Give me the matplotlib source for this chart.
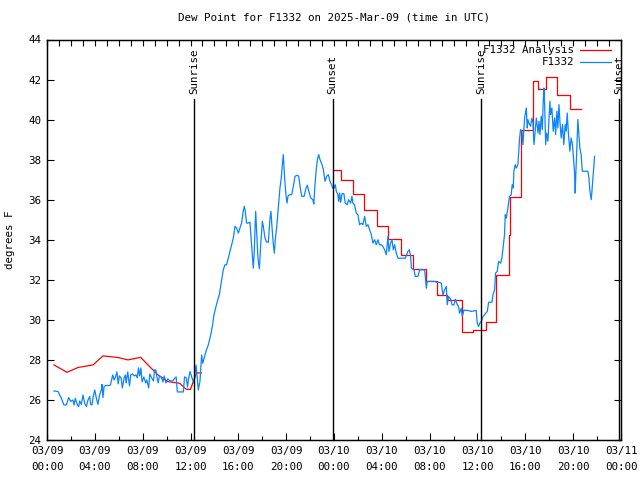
import datetime as dt

import matplotlib
matplotlib.use("Agg")
import matplotlib.pyplot as plt
from matplotlib.ticker import MultipleLocator, FuncFormatter, NullFormatter

# hours since 2025-03-09 00:00 UTC
obs_t = [0.58, 0.92, 1.2, 1.42, 1.62, 1.81, 1.98, 2.17, 2.26, 2.37, 2.54, 2.65, 2.73, 2.87,
         3.01, 3.15, 3.29, 3.43, 3.57, 3.65, 3.76, 3.85, 3.99, 4.13, 4.26, 4.40, 4.54, 4.6,
         4.68, 4.77, 4.9, 5.2, 5.3, 5.4, 5.5, 5.6, 5.7, 5.85, 5.95, 6.05, 6.2, 6.3, 6.45,
         6.55, 6.62, 6.75, 6.9, 7.0, 7.15, 7.3, 7.45, 7.55, 7.65, 7.75, 7.85, 7.95, 8.1,
         8.25, 8.35, 8.5, 8.6, 8.75, 8.9, 9.0, 9.1, 9.2, 9.3, 9.4, 9.55, 9.7, 9.8, 9.95,
         10.1, 10.3, 10.5, 10.7, 10.8, 10.9, 11.2, 11.4, 11.5, 11.65, 11.75, 11.85, 11.96,
         12.18, 12.29, 12.46, 12.57, 12.65, 12.79, 12.93, 13.02, 13.13, 13.29, 13.49, 13.69,
         13.85, 13.96, 14.13, 14.24, 14.41, 14.52, 14.63, 14.74, 14.88, 15.02, 15.16, 15.3,
         15.44, 15.58, 15.72, 15.86, 16.0, 16.13, 16.27, 16.41, 16.5, 16.58, 16.69, 16.83,
         16.97, 17.11, 17.25, 17.33, 17.45, 17.53, 17.64, 17.76, 17.87, 18.01, 18.09, 18.23,
         18.37, 18.51, 18.65, 18.73, 18.82, 18.93, 19.01, 19.09, 19.2, 19.34, 19.48, 19.59,
         19.68, 19.76, 19.87, 19.98, 20.07, 20.15, 20.26, 20.46, 20.6, 20.74, 20.93, 21.05,
         21.16, 21.3, 21.5, 21.66, 21.77, 21.89, 22.06, 22.23, 22.31, 22.41, 22.5, 22.61,
         22.72, 22.83, 23.0, 23.11, 23.25, 23.39, 23.53, 23.66, 23.8, 23.89, 24.0, 24.11,
         24.19, 24.33, 24.39, 24.47, 24.56, 24.67, 24.83, 24.94, 25.11, 25.22, 25.39, 25.5,
         25.58, 25.72, 25.86, 26.0, 26.14, 26.28, 26.42, 26.56, 26.7, 26.84, 26.98, 27.12,
         27.26, 27.4, 27.53, 27.67, 27.81, 27.95, 28.09, 28.23, 28.37, 28.51, 28.59, 28.73,
         28.85, 28.96, 29.07, 29.21, 29.35, 29.63, 29.96, 30.18, 30.3, 30.41, 30.47, 30.69,
         30.8, 31.02, 31.16, 31.44, 31.58, 31.63, 31.72, 31.8, 32.14, 32.41, 32.64, 32.83,
         32.97, 33.11, 33.25, 33.39, 33.47, 33.58, 33.75, 33.87, 34.03, 34.15, 34.31, 34.42,
         34.5, 34.64, 34.73, 34.87, 34.98, 35.2, 35.48, 35.89, 35.98, 36.09, 36.18, 36.32,
         36.46, 36.82, 36.93, 37.21, 37.29, 37.43, 37.51, 37.65, 37.76, 37.93, 38.04, 38.12,
         38.26, 38.32, 38.41, 38.54, 38.68, 38.82, 38.9, 38.99, 39.04, 39.16, 39.24, 39.38,
         39.47, 39.52, 39.6, 39.72, 39.8, 39.94, 40.08, 40.16, 40.22, 40.3, 40.44, 40.55,
         40.64, 40.72, 40.83, 40.92, 41.06, 41.14, 41.22, 41.33, 41.42, 41.5, 41.56, 41.61,
         41.7, 41.78, 41.89, 41.98, 42.06, 42.11, 42.22, 42.33, 42.45, 42.53, 42.64, 42.72,
         42.81, 42.89, 43.0, 43.11, 43.22, 43.33, 43.42, 43.5, 43.61, 43.72, 43.83, 43.94,
         44.03, 44.11, 44.17, 44.22, 44.31, 44.39, 44.48, 44.56, 44.67, 44.76, 44.95, 45.23,
         45.32, 45.4, 45.51, 45.57, 45.65, 45.74, 45.79]
obs_v = [26.45, 26.42, 26.08, 25.75, 25.75, 26.12, 25.92, 26.0, 25.75, 26.08, 25.75, 25.67,
         25.95, 25.78, 26.25, 25.83, 25.67, 26.0, 26.17, 25.78, 25.75, 26.12, 26.5, 26.08,
         25.78, 26.25, 26.5, 26.78, 26.12, 26.67, 26.72, 26.72, 26.75, 27.0, 27.25, 27.0,
         27.1, 27.4, 26.8, 27.2, 27.1, 26.6, 27.1, 27.25, 26.85, 27.4, 26.7, 27.25, 27.3,
         27.2, 27.25, 27.1, 27.6, 27.2, 27.6, 26.9, 27.15, 26.85, 27.0, 26.6, 27.3, 27.1,
         26.95, 27.5, 27.5, 27.1, 26.85, 27.2, 27.15, 26.9, 27.2, 26.85, 27.05, 26.95,
         26.95, 27.1, 27.15, 26.4, 26.4, 26.4, 27.15, 27.1, 26.65, 27.1, 27.42,
         27.0, 26.83, 27.75, 27.08, 26.5, 26.92, 28.25, 27.83, 28.08, 28.42, 28.75, 29.25,
         29.75, 30.25, 30.67, 30.92, 31.25, 31.67, 32.08, 32.5, 32.75, 32.75, 33.08, 33.42,
         33.75, 34.08, 34.67, 34.58, 34.33, 34.58, 34.83, 35.42, 35.67, 35.42, 34.83, 34.83,
         34.88, 33.75, 32.58, 33.42, 35.42, 34.42, 33.08, 32.55, 33.75, 34.92, 34.67, 34.08,
         33.88, 33.88, 35.08, 35.42, 34.58, 33.75, 33.33, 34.0, 34.58, 35.58, 36.58, 37.08,
         37.75, 38.25, 37.08, 36.25, 35.83, 36.17, 36.25, 36.25, 36.67, 37.17, 37.22, 37.17,
         36.67, 36.17, 36.17, 36.58, 36.72, 36.42, 36.08, 36.0, 35.78, 36.75, 37.42, 38.0,
         38.25, 38.0, 37.75, 37.5, 36.92, 37.17, 37.25, 36.92, 36.75, 36.58, 36.58, 36.75,
         36.42, 36.25, 35.92, 36.33, 35.87, 36.3, 36.3, 35.83, 35.75, 36.0, 35.83, 36.17,
         35.83, 35.75, 35.33, 35.25, 34.75, 34.83, 34.75, 35.17, 34.67, 34.75, 34.5, 34.25,
         33.83, 34.0, 33.75, 34.0, 33.75, 33.75, 33.67, 33.5, 33.25, 34.17, 33.42, 33.83,
         34.0, 33.5, 33.75, 33.33, 33.08, 33.08, 33.08, 33.42, 33.5, 33.17, 32.58, 32.5,
         32.17, 32.17, 32.5, 32.5, 32.5, 32.17, 31.58, 31.92, 31.92, 31.92, 31.87, 31.87,
         31.83, 31.25, 31.5, 31.67, 30.75, 31.17, 31.03, 30.75, 30.75, 31.03, 30.75, 30.67,
         30.33, 30.58, 30.17, 30.5, 30.47, 30.47, 30.42, 30.47, 29.83, 29.67, 29.83, 29.92,
         30.17, 30.42, 30.88, 30.88, 31.25, 31.5, 32.33, 32.42, 32.92, 32.83, 33.08, 33.5,
         34.25, 35.25, 35.08, 35.58, 36.17, 36.25, 36.75, 36.58, 37.42, 37.75, 37.58, 37.75,
         38.58, 39.08, 39.5, 39.42, 38.75, 40.08, 40.58, 39.58, 40.0, 39.83, 39.67, 40.08,
         39.83, 38.75, 39.5, 40.08, 39.33, 39.92, 39.25, 40.17, 39.5, 41.0, 41.58, 40.83,
         38.75, 39.33, 38.92, 40.08, 40.92, 40.25, 40.58, 39.42, 40.08, 39.25, 40.42, 39.58,
         40.75, 39.92, 39.08, 39.75, 38.75, 39.75, 39.42, 40.33, 39.25, 38.42, 39.08, 38.75,
         38.08, 37.42, 36.33, 37.25, 38.58, 40.0, 39.25, 38.58, 38.25, 37.42, 37.42, 37.42,
         37.08, 36.42, 36.0, 36.42, 37.08, 37.75, 38.17]

# analysis: smooth first night, hourly steps second night
ana1_t = [0.58, 1.67, 2.59, 3.85, 4.68, 5.94, 6.77, 7.83, 8.44, 9.28, 10.1, 11.1, 11.65,
          12.0, 12.35, 12.5, 12.9]
ana1_v = [27.75, 27.38, 27.62, 27.75, 28.2, 28.12, 28.0, 28.13, 27.75, 27.25, 26.92, 26.83,
          26.53, 26.53, 27.1, 27.35, 27.35]
ana2_t = [24.0, 24.55, 25.56, 26.53, 27.56, 28.54, 29.6, 30.58, 31.7, 32.58, 33.42, 34.67,
          35.65, 36.68, 37.54, 38.6, 38.69, 39.6, 39.66, 40.64, 41.05, 41.7, 42.67, 43.7,
          44.62]
ana2_v = [37.5, 37.0, 36.3, 35.5, 34.7, 34.05, 33.22, 32.55, 31.92, 31.22, 31.0, 29.38,
          29.5, 29.87, 32.22, 34.22, 36.13, 38.25, 39.5, 41.95, 41.55, 42.13, 41.22, 40.55,
          40.55]

sun_t = [12.32, 23.88, 36.31, 47.85]
sun_lbl = ["Sunrise", "Sunset", "Sunrise", "Sunset"]

start = dt.datetime(2025, 3, 9)
plt.rcParams["font.family"] = "DejaVu Sans Mono"
plt.rcParams["font.size"] = 7.5

fig = plt.figure(figsize=(6.4, 4.8), dpi=100)
ax = fig.add_axes([47 / 640, 40 / 480, 574 / 640, 400.5 / 480])

ax.plot(ana1_t, ana1_v, color="#ff0000", lw=0.9)
ax.step(ana2_t, ana2_v, where="post", color="#ff0000", lw=0.9)
ax.plot(obs_t, obs_v, color="#0a84ff", lw=0.9)

for t, s in zip(sun_t, sun_lbl):
    ax.plot([t, t], [24, 41.05], color="black", lw=1.0, clip_on=False)
    ax.text(t, 41.3, s, rotation=90, ha="center", va="bottom", fontsize=7.8)

ax.set_xlim(0, 48)
ax.set_ylim(24, 44)
ax.xaxis.set_major_locator(MultipleLocator(4))
ax.xaxis.set_minor_locator(MultipleLocator(2))
ax.xaxis.set_major_formatter(FuncFormatter(
    lambda h, p: (start + dt.timedelta(hours=h)).strftime("%m/%d\n%H:%M")))
ax.yaxis.set_major_locator(MultipleLocator(2))
ax.tick_params(which="both", direction="in", top=False, right=True, labelsize=7.8)
ax.tick_params(which="major", length=5, width=0.8, pad=4)
ax.tick_params(which="minor", length=3, width=0.8)
for lbl in ax.get_xticklabels():
    lbl.set_linespacing(1.75)
for sp in ax.spines.values():
    sp.set_linewidth(1.0)

# top edge carries hourly ticks
top = ax.twiny()
top.set_xlim(0, 48)
top.xaxis.set_major_locator(MultipleLocator(1))
top.xaxis.set_major_formatter(NullFormatter())
top.tick_params(direction="in", length=4, width=0.8)

ax.set_title("Dew Point for F1332 on 2025-Mar-09 (time in UTC)", fontsize=7.8, pad=14)
ax.set_ylabel("degrees F", fontsize=7.8, labelpad=10)

# gnuplot-style key, right aligned text
ax.text(0.918, 0.975, "F1332 Analysis", transform=ax.transAxes, ha="right", va="center",
        fontsize=7.8)
ax.plot([0.929, 0.982], [0.975, 0.975], transform=ax.transAxes, color="#ff0000", lw=0.9)
ax.text(0.918, 0.943, "F1332", transform=ax.transAxes, ha="right", va="center", fontsize=7.8)
ax.plot([0.929, 0.982], [0.943, 0.943], transform=ax.transAxes, color="#0a84ff", lw=0.9)

fig.savefig("out.png", dpi=100)
